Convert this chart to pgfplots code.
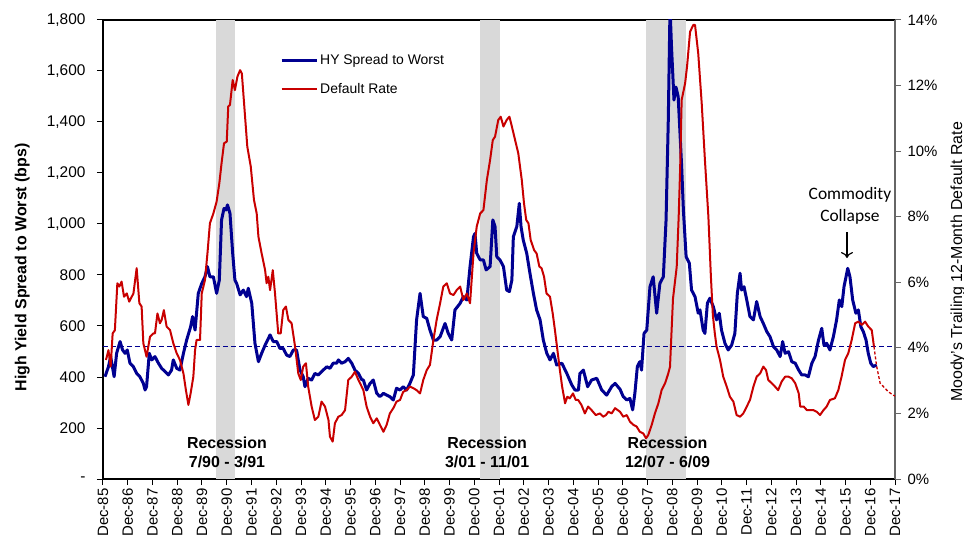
\documentclass[border=0pt]{standalone}
\usepackage{fontspec}
\setmainfont{Liberation Sans}
\newfontfamily\calibri{Carlito}
\usepackage{pgfplots}
\usepackage{pgfplotstable}
\pgfplotsset{compat=1.18}
\usetikzlibrary{arrows.meta}
\definecolor{hyblue}{RGB}{0,0,145}
\definecolor{dred}{RGB}{200,0,0}
\definecolor{recgray}{RGB}{217,217,217}

% x = years since Dec-1985, y = spread (bps)
\pgfplotstableread{
x y
0.08 401
0.22 440
0.31 480
0.45 401
0.55 493
0.69 539
0.79 506
0.89 493
0.98 506
1.09 454
1.23 440
1.36 414
1.49 401
1.63 375
1.70 349
1.76 362
1.87 493
1.97 467
2.10 480
2.24 454
2.37 434
2.51 421
2.64 408
2.77 427
2.84 467
2.98 434
3.11 427
3.25 493
3.38 545
3.54 597
3.62 637
3.72 584
3.85 728
3.99 767
4.12 793
4.22 833
4.32 793
4.46 793
4.59 728
4.70 780
4.79 1016
4.89 1061
4.97 1055
5.03 1075
5.13 1042
5.24 885
5.33 780
5.40 767
5.54 722
5.67 741
5.80 715
5.87 748
6.01 689
6.14 532
6.28 460
6.41 493
6.55 525
6.75 565
6.88 539
7.02 539
7.15 512
7.28 512
7.42 486
7.55 480
7.69 506
7.82 506
7.96 427
8.09 401
8.16 362
8.29 395
8.43 388
8.56 414
8.70 408
8.83 421
9.04 440
9.17 434
9.30 454
9.44 454
9.51 467
9.64 454
9.78 460
9.91 473
10.05 454
10.18 427
10.32 414
10.45 390
10.52 388
10.65 349
10.79 375
10.92 388
11.06 336
11.19 323
11.33 336
11.46 329
11.59 323
11.73 310
11.86 356
12.00 349
12.13 362
12.27 349
12.40 375
12.54 408
12.67 624
12.81 728
12.94 637
13.08 630
13.21 584
13.35 545
13.48 545
13.62 558
13.82 610
13.95 571
14.09 545
14.22 663
14.43 689
14.56 715
14.70 702
14.83 833
14.97 950
15.03 963
15.10 885
15.24 859
15.37 859
15.48 820
15.64 833
15.75 1016
15.84 990
15.91 872
16.04 859
16.18 833
16.31 741
16.42 735
16.52 780
16.58 950
16.72 990
16.82 1081
16.89 990
16.98 937
17.12 885
17.25 807
17.39 728
17.52 663
17.66 624
17.79 545
17.93 493
18.06 467
18.20 493
18.33 447
18.54 454
18.74 414
18.94 369
19.07 349
19.21 349
19.27 414
19.41 427
19.58 362
19.74 388
19.95 395
20.15 349
20.35 329
20.55 362
20.69 375
20.89 352
21.02 323
21.16 310
21.29 316
21.40 271
21.49 336
21.59 441
21.69 460
21.76 427
21.86 571
21.97 584
22.10 754
22.23 793
22.37 650
22.50 767
22.64 793
22.75 1016
22.84 1408
22.91 1850
22.97 1695
23.07 1486
23.15 1537
23.24 1499
23.38 1225
23.45 1055
23.56 872
23.69 846
23.78 741
23.92 715
24.05 650
24.12 663
24.25 584
24.32 571
24.42 689
24.52 709
24.66 676
24.79 624
24.90 650
24.99 584
25.13 532
25.26 506
25.40 525
25.53 571
25.63 728
25.74 807
25.80 741
25.90 754
26.01 702
26.14 637
26.28 624
26.41 696
26.55 637
26.68 610
26.82 578
26.95 558
27.09 519
27.22 506
27.36 480
27.46 539
27.56 493
27.70 499
27.83 460
27.97 454
28.11 427
28.23 408
28.37 408
28.50 401
28.64 454
28.77 480
28.91 545
29.04 591
29.13 525
29.24 532
29.37 506
29.51 558
29.64 624
29.75 702
29.85 676
29.94 754
30.09 826
30.18 793
30.29 702
30.42 650
30.52 663
30.62 597
30.72 578
30.83 545
30.92 493
31.02 454
31.12 441
31.26 447
}\hytable

% x = years since Dec-1985, y = default rate (%)
\pgfplotstableread{
x y
0.12 3.63
0.22 3.93
0.31 3.43
0.39 4.44
0.48 4.54
0.58 5.97
0.66 5.87
0.75 6.02
0.85 5.56
0.96 5.66
1.06 5.41
1.23 5.66
1.36 6.43
1.47 5.36
1.56 5.26
1.63 4.14
1.76 3.73
1.90 4.34
2.03 4.44
2.10 4.44
2.20 5.05
2.30 4.75
2.37 4.85
2.46 5.15
2.57 4.65
2.71 4.54
2.84 4.14
2.98 3.83
3.11 3.63
3.25 3.22
3.35 2.71
3.45 2.26
3.54 2.61
3.65 3.12
3.72 3.93
3.78 4.24
3.92 4.24
3.99 5.66
4.12 6.07
4.22 6.88
4.32 7.80
4.46 8.10
4.59 8.46
4.70 9.02
4.79 9.63
4.89 10.24
5.00 10.29
5.06 11.36
5.13 11.41
5.24 12.17
5.33 11.86
5.43 12.27
5.54 12.47
5.61 12.37
5.70 11.46
5.83 10.14
5.97 9.53
6.10 8.51
6.21 8.10
6.28 7.39
6.41 6.88
6.55 6.37
6.61 5.97
6.68 6.17
6.75 5.76
6.86 6.37
6.95 5.66
7.08 4.44
7.18 4.44
7.28 5.15
7.39 5.26
7.49 4.85
7.62 4.75
7.76 4.04
7.89 3.22
7.99 3.02
8.09 3.43
8.20 3.53
8.29 2.82
8.43 2.21
8.56 1.80
8.70 1.90
8.83 2.36
8.97 2.21
9.11 1.80
9.17 1.29
9.28 1.14
9.37 1.70
9.51 1.90
9.64 1.95
9.78 2.10
9.91 3.02
10.05 3.12
10.18 3.27
10.32 3.02
10.45 2.82
10.52 2.71
10.65 2.21
10.79 1.90
10.92 1.70
11.06 1.85
11.19 1.65
11.33 1.44
11.46 1.65
11.59 2.00
11.73 2.16
11.86 2.36
12.00 2.41
12.13 2.66
12.27 2.71
12.40 2.82
12.54 2.77
12.67 2.71
12.81 2.61
12.94 3.02
13.08 3.32
13.21 3.48
13.35 4.24
13.48 4.85
13.62 5.36
13.75 5.87
13.89 5.97
14.02 5.66
14.16 5.61
14.29 5.76
14.43 5.87
14.56 5.46
14.70 5.66
14.83 5.36
14.97 6.88
15.10 7.70
15.24 8.10
15.37 8.20
15.51 9.12
15.64 9.73
15.75 10.34
15.84 10.44
15.97 10.95
16.07 11.05
16.18 10.75
16.31 10.95
16.42 11.05
16.52 10.75
16.65 10.34
16.78 9.93
16.92 9.12
17.01 8.41
17.10 7.90
17.19 7.80
17.28 7.29
17.42 6.98
17.52 6.88
17.63 6.48
17.72 6.43
17.82 6.17
17.92 5.66
18.06 5.56
18.17 5.05
18.26 4.54
18.36 3.93
18.46 3.32
18.55 2.82
18.67 2.31
18.76 2.51
18.86 2.46
18.99 2.61
19.10 2.41
19.20 2.41
19.33 2.26
19.47 2.00
19.60 2.21
19.74 2.10
19.91 1.95
20.08 2.00
20.21 1.90
20.32 1.95
20.42 2.05
20.55 2.00
20.69 2.16
20.89 2.05
21.02 1.90
21.16 1.95
21.29 1.75
21.43 1.65
21.56 1.60
21.69 1.44
21.83 1.39
21.94 1.24
22.03 1.34
22.17 1.65
22.30 2.00
22.44 2.31
22.57 2.71
22.71 2.92
22.84 3.22
22.91 3.43
22.96 4.30
23.03 5.50
23.18 6.47
23.26 8.00
23.32 9.50
23.38 11.56
23.52 12.07
23.60 12.60
23.72 13.64
23.85 13.85
23.92 13.85
24.05 12.98
24.19 11.46
24.32 9.73
24.46 8.00
24.56 6.20
24.64 5.00
24.72 4.44
24.79 4.04
24.93 3.63
25.06 3.12
25.20 2.82
25.33 2.51
25.47 2.36
25.60 1.95
25.74 1.90
25.87 2.00
26.01 2.21
26.14 2.41
26.28 2.82
26.41 3.12
26.55 3.22
26.68 3.43
26.79 3.32
26.88 3.02
27.02 2.92
27.15 2.82
27.28 2.71
27.42 2.97
27.56 3.12
27.70 3.12
27.83 3.07
27.97 2.92
28.11 2.61
28.17 2.21
28.31 2.21
28.44 2.10
28.57 2.10
28.70 2.10
28.84 2.05
28.97 1.95
29.11 2.10
29.24 2.21
29.37 2.41
29.57 2.46
29.71 2.71
29.84 3.12
29.98 3.63
30.11 3.83
30.25 4.24
30.39 4.75
30.52 4.80
30.66 4.70
30.79 4.80
30.92 4.65
31.06 4.54
31.15 4.04
}\deftable

% projected default rate (dashed)
\pgfplotstableread{
x y
31.15 4.04
31.26 3.43
31.40 2.92
31.53 2.82
31.73 2.66
31.93 2.56
32.00 2.53
}\projtable

\begin{document}
\begin{tikzpicture}
\begin{axis}[
  name=main,
  scale only axis,
  width=792bp, height=459bp,
  xmin=0, xmax=32, ymin=0, ymax=1800,
  xtick={0,1,...,32},
  xticklabels={Dec-85,Dec-86,Dec-87,Dec-88,Dec-89,Dec-90,Dec-91,Dec-92,Dec-93,Dec-94,Dec-95,Dec-96,Dec-97,Dec-98,Dec-99,Dec-00,Dec-01,Dec-02,Dec-03,Dec-04,Dec-05,Dec-06,Dec-07,Dec-08,Dec-09,Dec-10,Dec-11,Dec-12,Dec-13,Dec-14,Dec-15,Dec-16,Dec-17},
  x tick label style={rotate=90, anchor=east, font=\fontsize{15}{17}\selectfont},
  ytick={0,200,...,1800},
  yticklabels={-,200,400,600,800,{1,000},{1,200},{1,400},{1,600},{1,800}},
  y tick label style={font=\fontsize{15.5}{17}\selectfont, xshift=-8bp},
  xtick pos=bottom, ytick pos=left,
  tick align=outside,
  major tick length=6bp,
  tick style={black, line width=1bp},
  axis line style={black, line width=1.4bp},
  ylabel={\bfseries High Yield Spread to Worst (bps)},
  ylabel style={at={(axis description cs:-0.102,0.461)}, anchor=center, font=\fontsize{16}{19}\selectfont},
]
\addplot[fill=recgray, draw=none] coordinates {(4.55,1800) (5.33,1800)} \closedcycle;
\addplot[fill=recgray, draw=none] coordinates {(15.23,1800) (16.03,1800)} \closedcycle;
\addplot[fill=recgray, draw=none] coordinates {(21.94,1800) (23.56,1800)} \closedcycle;
\addplot[hyblue, line width=1.3bp, dash pattern=on 5bp off 3bp] coordinates {(0,520) (32,520)};
\addplot[hyblue, line width=3bp, line join=round] table {\hytable};
\coordinate (bl) at (rel axis cs:0,0);
\coordinate (tr) at (rel axis cs:1,1);
\end{axis}

\begin{axis}[
  scale only axis,
  width=792bp, height=459bp,
  xmin=0, xmax=32, ymin=0, ymax=14,
  axis x line=none,
  axis y line*=right,
  ytick={0,2,...,14},
  yticklabels={0\%,2\%,4\%,6\%,8\%,10\%,12\%,14\%},
  y tick label style={font=\fontsize{15}{17}\selectfont, xshift=3bp},
  ytick pos=right,
  tick align=outside,
  major tick length=6bp,
  tick style={black!60, line width=1bp},
  axis line style={black!60, line width=1.4bp},
  ylabel={Moody's Trailing 12-Month Default Rate},
  ylabel style={at={(axis description cs:1.0795,0.473)}, anchor=center, font=\fontsize{16}{19}\selectfont},
  legend style={at={(axis description cs:0.2235,0.929)}, anchor=north west, draw=none, fill=none,
    font=\fontsize{14}{16}\selectfont, row sep=13bp, inner sep=0pt,
    /tikz/every even column/.append style={column sep=0bp}},
  legend cell align=left,
  legend image code/.code={\draw[#1] (0bp,0bp) -- (35bp,0bp);},
]
\addlegendimage{hyblue, line width=3bp}
\addlegendentry{HY Spread to Worst}
\addplot[dred, line width=2bp, line join=round] table {\deftable};
\addlegendentry{Default Rate}
\addplot[dred, line width=1.3bp, dash pattern=on 3bp off 2bp, forget plot] table {\projtable};
\node[align=center, font=\bfseries\fontsize{16}{19}\selectfont] at (axis cs:5.01,0.81) {Recession\\7/90 - 3/91};
\node[align=center, font=\bfseries\fontsize{16}{19}\selectfont] at (axis cs:15.52,0.81) {Recession\\3/01 - 11/01};
\node[align=center, font=\bfseries\fontsize{16}{19}\selectfont] at (axis cs:22.81,0.81) {Recession\\12/07 - 6/09};
\node[align=center, font=\calibri\fontsize{17.5}{22}\selectfont] at (axis cs:30.18,8.33) {Commodity\\Collapse};
\draw[black, line width=1.2bp, -{To[length=6bp,width=12bp]}] (axis cs:30.06,7.53) -- (axis cs:30.06,6.74);
\end{axis}
\pgfresetboundingbox
\path[use as bounding box] ([shift={(-103bp,-58bp)}]bl) rectangle ([shift={(69bp,20bp)}]tr);
\end{tikzpicture}
\end{document}
